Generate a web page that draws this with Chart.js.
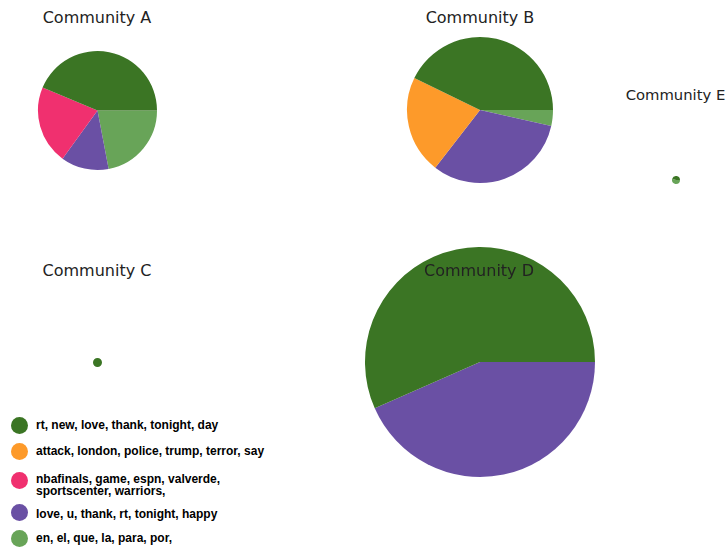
<!DOCTYPE html>
<html>
<head>
<meta charset="utf-8">
<script src="https://cdn.jsdelivr.net/npm/chart.js@4.4.1/dist/chart.umd.min.js"></script>
<style>
  html, body { margin: 0; padding: 0; background: #fff; }
  #stage { position: relative; width: 728px; height: 548px; overflow: hidden; background: #fff; }
  .pie { position: absolute; }
  .title { position: absolute; font-family: "DejaVu Sans", sans-serif; font-size: 16px; line-height: 20px;
           color: #222; white-space: nowrap; text-align: center; width: 200px; z-index: 5; }
  .leg-dot { position: absolute; width: 17px; height: 17px; border-radius: 50%; }
  .leg-text { position: absolute; font-family: "Liberation Sans", Arial, sans-serif; font-weight: bold;
              font-size: 12px; line-height: 12px; color: #000; white-space: nowrap; }
</style>
</head>
<body>
<div id="stage"></div>
<script>
// ---- data ----
const topics = [
  "rt, new, love, thank, tonight, day",
  "attack, london, police, trump, terror, say",
  "nbafinals, game, espn, valverde,\nsportscenter, warriors,",
  "love, u, thank, rt, tonight, happy",
  "en, el, que, la, para, por,"
];
const topicColors = ["#3b7524", "#fd9a2a", "#f0306f", "#6a50a4", "#68a458"];
const communities = ["Community A", "Community B", "Community C", "Community D", "Community E"];
const valuesA = [43.7, 0, 21.3, 13.0, 22.0];
const valuesB = [42.8, 21.7, 0, 32.0, 3.5];
const valuesC = [100, 0, 0, 0, 0];
const valuesD = [56.6, 0, 0, 43.4, 0];
const valuesE = [45, 0, 0, 0, 55];
const communityValues = [valuesA, valuesB, valuesC, valuesD, valuesE];

// ---- layout (positions / sizes) ----
const pieLayout = [
  { cx: 97.5, cy: 110, r: 59.5, tx: 97,    tb: 23.5, fs: 16 },
  { cx: 479.5, cy: 110, r: 73,  tx: 480,   tb: 23.5, fs: 16 },
  { cx: 97,  cy: 362, r: 4.5,  tx: 97,    tb: 276,  fs: 16 },
  { cx: 480, cy: 362, r: 115,  tx: 479,   tb: 276,  fs: 16 },
  { cx: 676, cy: 180, r: 4,    tx: 675.5, tb: 99.5, fs: 14.8 }
];
const legendLayout = [
  { dy: 425,   tb: 429.5 },
  { dy: 451.5, tb: 455 },
  { dy: 480,   tb: 483.5 },
  { dy: 512.5, tb: 518 },
  { dy: 538.5, tb: 542.5 }
];

const stage = document.getElementById('stage');

communityValues.forEach((vals, i) => {
  const L = pieLayout[i];
  const pad = 3;
  const size = Math.ceil(2 * (L.r + pad));
  const box = document.createElement('div');
  box.className = 'pie';
  box.style.left = (L.cx - size / 2) + 'px';
  box.style.top = (L.cy - size / 2) + 'px';
  box.style.width = size + 'px';
  box.style.height = size + 'px';
  const cv = document.createElement('canvas');
  box.appendChild(cv);
  stage.appendChild(box);

  // matplotlib draws counter-clockwise from 3 o'clock; Chart.js clockwise -> reverse order, start at 3 o'clock
  const data = vals.slice().reverse();
  const cols = topicColors.slice().reverse();
  const labels = topics.slice().reverse();

  new Chart(cv, {
    type: 'pie',
    data: {
      labels: labels,
      datasets: [{
        data: data,
        backgroundColor: cols,
        borderWidth: 0,
        hoverOffset: 0,
        radius: L.r
      }]
    },
    options: {
      responsive: true,
      maintainAspectRatio: false,
      animation: false,
      rotation: 90,
      layout: { padding: 0 },
      plugins: { legend: { display: false }, tooltip: { enabled: false }, title: { display: false } }
    }
  });

  const t = document.createElement('div');
  t.className = 'title';
  t.textContent = communities[i];
  t.style.fontSize = L.fs + 'px';
  t.style.left = (L.tx - 100) + 'px';
  t.style.top = (L.tb - 15.5 * L.fs / 16) + 'px';
  stage.appendChild(t);
});

topics.forEach((txt, i) => {
  const L = legendLayout[i];
  const d = document.createElement('div');
  d.className = 'leg-dot';
  d.style.background = topicColors[i];
  d.style.left = (19 - 8.5) + 'px';
  d.style.top = (L.dy - 8.5) + 'px';
  stage.appendChild(d);
  const t = document.createElement('div');
  t.className = 'leg-text';
  t.style.left = '36px';
  t.style.top = (L.tb - 10.2) + 'px';
  t.innerHTML = txt.split('\n').join('<br>');
  stage.appendChild(t);
});
</script>
</body>
</html>
